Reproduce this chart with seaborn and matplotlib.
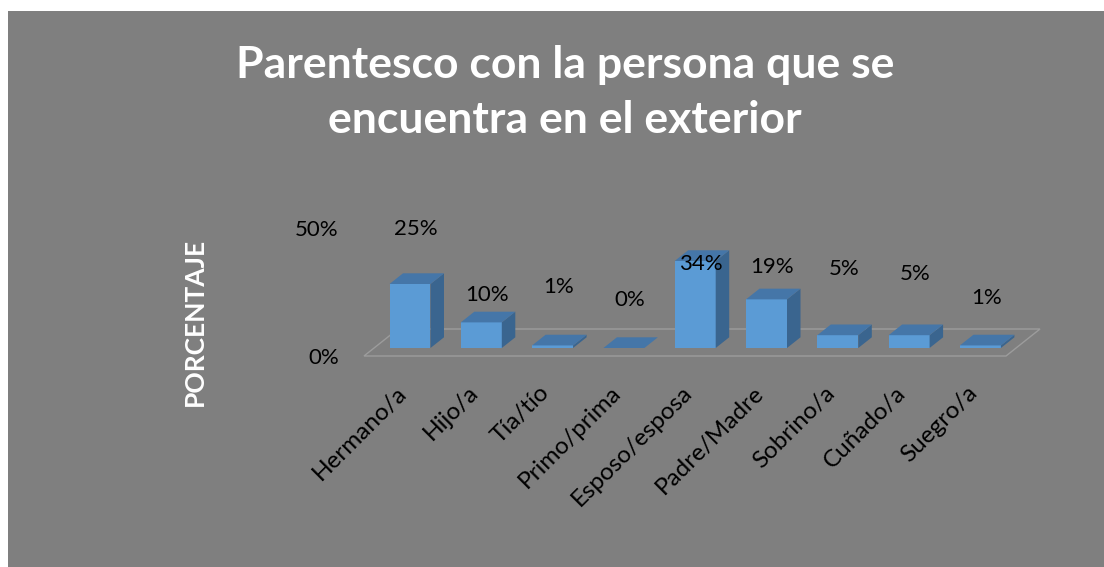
import matplotlib
matplotlib.use("Agg")
import matplotlib.pyplot as plt
from matplotlib.patches import Polygon, Rectangle
from matplotlib.transforms import offset_copy
import seaborn as sns

# --- data -------------------------------------------------------------
categorias = ["Hermano/a", "Hijo/a", "Tía/tío", "Primo/prima", "Esposo/esposa",
              "Padre/Madre", "Sobrino/a", "Cuñado/a", "Suegro/a"]
porcentajes = [25, 10, 1, 0, 34, 19, 5, 5, 1]
etiquetas = ["25%", "10%", "1%", "0%", "34%", "19%", "5%", "5%", "1%"]
ticks_y = [0, 50]
ticks_y_texto = ["0%", "50%"]

# vertical placement of the value labels (in % units)
altura_etiqueta = [46.5, 20.7, 23.8, 18.8, 32.8, 31.6, 30.9, 28.9, 19.5]

# --- style ------------------------------------------------------------
FONDO = "#7F7F7F"
FRENTE = "#5B9BD5"
TAPA = "#4576A8"
LADO = "#3A658F"
PISO = "#9C9C9C"
FUENTE = ["Lato", "DejaVu Sans"]

sns.set_theme(style="white")
plt.rcParams["font.family"] = FUENTE

W, H, DPI = 1104, 567, 100
fig = plt.figure(figsize=(W / DPI, H / DPI), dpi=DPI, facecolor="white")

# grey chart area with a thin white margin at top and left
fig.patches.append(Rectangle((8 / W, 0), 1 - 8 / W, 1 - 11 / H,
                             transform=fig.transFigure, facecolor=FONDO,
                             edgecolor="none", zorder=-10))

# plot area: category spacing 71.3 px, 2.56 px per percentage point
px_cat, px_pct = 71.3, 2.56
x_left = 410 - px_cat
base_y = 348
ax = fig.add_axes([x_left / W, (H - base_y) / H, 10 * px_cat / W, 50 * px_pct / H])
ax.set_facecolor("none")
ax.set_zorder(1)

sns.barplot(x=categorias, y=porcentajes, color=FRENTE, saturation=1,
            width=0.575, linewidth=0, ax=ax, zorder=3)
ax.set_xlim(-1, 9)
ax.set_ylim(0, 50)
for s in ax.spines.values():
    s.set_visible(False)
ax.set_xlabel("")
ax.set_ylabel("")
ax.set_xticks([])

# depth of the pseudo-3D boxes, in data units
DX = 13.5 / px_cat
DY = 10.7 / px_pct

# floor parallelogram
fy0, fy1 = -8 / px_pct, 19 / px_pct
fx0, fx1 = (364 - 410) / px_cat, (1006 - 410) / px_cat
fdx = 34 / px_cat
ax.add_patch(Polygon([(fx0, fy0), (fx1, fy0), (fx1 + fdx, fy1), (fx0 + fdx, fy1)],
                     closed=True, facecolor="none", edgecolor=PISO, lw=1.0,
                     zorder=1, clip_on=False))

# top and side faces for every bar
for bar in list(ax.patches):
    if not isinstance(bar, Rectangle):
        continue
    bar.set_clip_on(False)
    x0 = bar.get_x()
    x1 = x0 + bar.get_width()
    h = bar.get_height()
    top = Polygon([(x0, h), (x1, h), (x1 + DX, h + DY), (x0 + DX, h + DY)],
                  closed=True, facecolor=TAPA, edgecolor="none", zorder=4,
                  clip_on=False)
    side = Polygon([(x1, 0), (x1 + DX, DY), (x1 + DX, h + DY), (x1, h)],
                   closed=True, facecolor=LADO, edgecolor="none", zorder=4,
                   clip_on=False)
    ax.add_patch(side)
    ax.add_patch(top)

# value labels
tr_val = offset_copy(ax.transData, fig, x=6, y=0, units="dots")
for i, (txt, yv) in enumerate(zip(etiquetas, altura_etiqueta)):
    ax.text(i, yv, txt, transform=tr_val, ha="center", va="center",
            fontsize=16, color="black", zorder=6, clip_on=False)

# y tick labels (measured from the front edge of the floor)
tr_y = offset_copy(ax.transData, fig, x=0, y=-9.5, units="dots")
for v, t in zip(ticks_y, ticks_y_texto):
    ax.text(-1, v, t, transform=tr_y, ha="right", va="center",
            fontsize=16, color="black", clip_on=False)
ax.set_yticks([])

# category labels, rotated 45 degrees
tr_cat = offset_copy(ax.transData, fig, x=-14, y=-34, units="dots")
for i, c in enumerate(categorias):
    ax.text(i, 0, c, transform=tr_cat, ha="right", va="top", rotation=45,
            rotation_mode="anchor", fontsize=17.5, color="black", clip_on=False)

# axis title
fig.text(195 / W, 1 - 322 / H, "PORCENTAJE", rotation=90, ha="center",
         va="center", fontsize=19, fontweight="bold", color="white")

# chart title
fig.text(565 / W, 1 - 78 / H, "Parentesco con la persona que se", ha="center",
         va="baseline", fontsize=32, fontweight="bold", color="white")
fig.text(565 / W, 1 - 133 / H, "encuentra en el exterior", ha="center",
         va="baseline", fontsize=32, fontweight="bold", color="white")

fig.savefig("out.png", dpi=DPI, facecolor="white")
